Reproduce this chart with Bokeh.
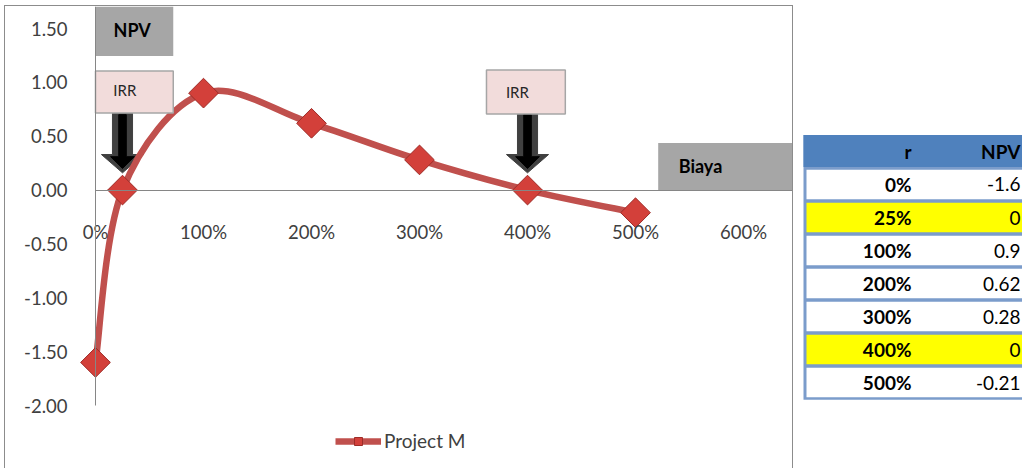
import math
from bokeh.plotting import figure
from bokeh.models import Range1d, FixedTicker, NumeralTickFormatter, Legend, LegendItem, ColumnDataSource
from bokeh.layouts import row
from bokeh.embed import file_html
from bokeh.resources import INLINE
from bokeh.core.properties import value

# ---------------- data ----------------
rates = [0.0, 0.25, 1.0, 2.0, 3.0, 4.0, 5.0]          # discount rate r (1.0 = 100%)
npv = [-1.6, 0.0, 0.9, 0.62, 0.28, 0.0, -0.21]        # NPV
series_name = "Project M"
y_ticks = [-2.0, -1.5, -1.0, -0.5, 0.0, 0.5, 1.0, 1.5]
x_ticks = [0, 1, 2, 3, 4, 5, 6]
table_headers = ["r", "NPV"]
label_npv = "NPV"
label_irr = "IRR"
label_cost = "Biaya"

FONT = "Lato"
RED = "#C0504D"
GRAY_BOX = "#A6A6A6"

irr_points = [r for r, v in zip(rates, npv) if v == 0]

# ---------------- smooth line (Catmull-Rom -> cubic Bezier) ----------------
pts = list(zip(rates, npv))
n = len(pts)
seg = dict(x0=[], y0=[], x1=[], y1=[], cx0=[], cy0=[], cx1=[], cy1=[])
for i in range(n - 1):
    p0 = pts[i - 1] if i > 0 else pts[i]
    p1 = pts[i]
    p2 = pts[i + 1]
    p3 = pts[i + 2] if i + 2 < n else pts[i + 1]
    seg["x0"].append(p1[0]); seg["y0"].append(p1[1])
    seg["x1"].append(p2[0]); seg["y1"].append(p2[1])
    seg["cx0"].append(p1[0] + (p2[0] - p0[0]) / 6.0)
    seg["cy0"].append(p1[1] + (p2[1] - p0[1]) / 6.0)
    seg["cx1"].append(p2[0] - (p3[0] - p1[0]) / 6.0)
    seg["cy1"].append(p2[1] - (p3[1] - p1[1]) / 6.0)
seg_src = ColumnDataSource(seg)
pt_src = ColumnDataSource(dict(r=rates, npv=npv))

# ---------------- chart ----------------
X_START, X_END = -0.8333, 6.472
Y_BOT, Y_TOP = -2.594, 1.7043
p = figure(width=789, height=463, x_range=Range1d(X_START, X_END), y_range=Range1d(Y_BOT, Y_TOP),
           output_backend="svg", toolbar_location=None,
           min_border_left=0, min_border_right=0, min_border_top=0, min_border_bottom=0,
           background_fill_color="white", border_fill_color="white")
p.margin = (5, 0, 0, 4)
p.styles = {"border-top": "1px solid #8c8c8c", "border-left": "1px solid #8c8c8c",
            "border-right": "1px solid #8c8c8c"}
p.outline_line_color = None
p.grid.visible = False

# axes
p.yaxis.ticker = FixedTicker(ticks=y_ticks)
p.yaxis.formatter = NumeralTickFormatter(format="0.00")
p.yaxis.fixed_location = 0
p.yaxis.bounds = (y_ticks[0], Y_TOP)
p.xaxis.ticker = FixedTicker(ticks=x_ticks)
p.xaxis.formatter = NumeralTickFormatter(format="0%")
p.xaxis.fixed_location = 0
p.xaxis.bounds = (0, X_END)
for ax in (p.xaxis, p.yaxis):
    ax.axis_line_color = "#868686"
    ax.axis_line_width = 1
    ax.major_tick_line_color = None
    ax.minor_tick_line_color = None
    ax.major_label_text_font = FONT
    ax.major_label_text_font_size = "18.5px"
    ax.major_label_text_color = "#404040"
p.yaxis.major_label_standoff = 22
p.xaxis.major_label_standoff = 25

# IRR arrows (pointing at the IRR values)
for xc in irr_points:
    top, hb, tip = 0.715, 0.33, 0.16
    hw, hh = 0.093, 0.195
    p.patch([xc - hw, xc + hw, xc + hw, xc + hh, xc, xc - hh, xc - hw],
            [top, top, hb, hb, tip, hb, hb], fill_color="#404040", line_color="#404040")
    top2, hb2, tip2 = 0.70, 0.31, 0.20
    hw2, hh2 = 0.035, 0.11
    p.patch([xc - hw2, xc + hw2, xc + hw2, xc + hh2, xc, xc - hh2, xc - hw2],
            [top2, top2, hb2, hb2, tip2, hb2, hb2], fill_color="black", line_color="black")

# series
line_r = p.bezier(x0="x0", y0="y0", x1="x1", y1="y1", cx0="cx0", cy0="cy0", cx1="cx1", cy1="cy1",
                  source=seg_src, line_color=RED, line_width=6.5)
mark_r = p.scatter(x="r", y="npv", source=pt_src, marker="square", angle=math.pi / 4, size=21,
                   fill_color="#D3403A", line_color="#9E2C28", line_width=1)

# annotation boxes
p.quad(left=[0], right=[0.72], top=[Y_TOP], bottom=[1.244], fill_color=GRAY_BOX, line_color=None)
p.text(x=[0.167], y=[1.49], text=[label_npv], text_font=value(FONT), text_font_style="bold",
       text_font_size="18px", text_color="black", text_baseline="middle")

p.quad(left=[0, 3.62], right=[0.72, 4.35], top=[1.105, 1.114], bottom=[0.715, 0.706],
       fill_color="#F2DCDB", line_color=GRAY_BOX, line_width=1.5)
p.text(x=[0.165, 3.80], y=[0.925, 0.915], text=[label_irr, label_irr], text_font=value(FONT),
       text_font_size="15px", text_color="#262626", text_baseline="middle")

p.quad(left=[5.21], right=[X_END], top=[0.436], bottom=[0.0], fill_color=GRAY_BOX, line_color=None)
p.text(x=[5.40], y=[0.223], text=[label_cost], text_font=value(FONT), text_font_style="bold",
       text_font_size="18px", text_color="black", text_baseline="middle")

# legend
legend = Legend(items=[LegendItem(label=series_name, renderers=[line_r, mark_r])],
                location=(330, 17), orientation="horizontal",
                label_text_font=FONT, label_text_font_size="19px", label_text_color="#404040",
                glyph_width=46, glyph_height=20, padding=0, margin=0, spacing=0,
                label_standoff=3, border_line_color=None, background_fill_alpha=0)
p.add_layout(legend)

# ---------------- table ----------------
K_TOP = -4.424
K_BOT = 9.636
t = figure(width=229, height=464, x_range=Range1d(0, 229), y_range=Range1d(K_BOT, K_TOP),
           output_backend="svg", toolbar_location=None, x_axis_location=None, y_axis_location=None,
           min_border=0, background_fill_color="white", border_fill_color="white")
t.margin = (5, 0, 0, 0)
t.outline_line_color = None
t.grid.visible = False

nrows = len(rates)
ks = list(range(1, nrows + 1))
t.quad(left=[10], right=[229], top=[-0.5], bottom=[nrows + 0.52], fill_color="#7B9CCB", line_color=None)
t.quad(left=[10], right=[229], top=[-0.5], bottom=[0.47], fill_color="#4F81BD", line_color=None)
row_fill = ["#FFFF00" if v == 0 else "#FFFFFF" for v in npv]
t.quad(left=[13] * nrows, right=[229] * nrows, top=[k - 0.445 for k in ks],
       bottom=[k + 0.445 for k in ks], fill_color=row_fill, line_color=None)

t.text(x=[118, 227], y=[0, 0], text=table_headers, text_font=value(FONT), text_font_style="bold",
       text_font_size="19px", text_color="black", text_align="right", text_baseline="middle")
r_labels = [f"{int(round(r * 100))}%" for r in rates]
v_labels = [f"{v:g}" for v in npv]
t.text(x=[118] * nrows, y=ks, text=r_labels, text_font=value(FONT), text_font_style="bold",
       text_font_size="19px", text_color="black", text_align="right", text_baseline="middle")
t.text(x=[227] * nrows, y=ks, text=v_labels, text_font=value(FONT),
       text_font_size="19px", text_color="black", text_align="right", text_baseline="middle")

layout = row(p, t)
open("out.html", "w").write(file_html(layout, INLINE))
